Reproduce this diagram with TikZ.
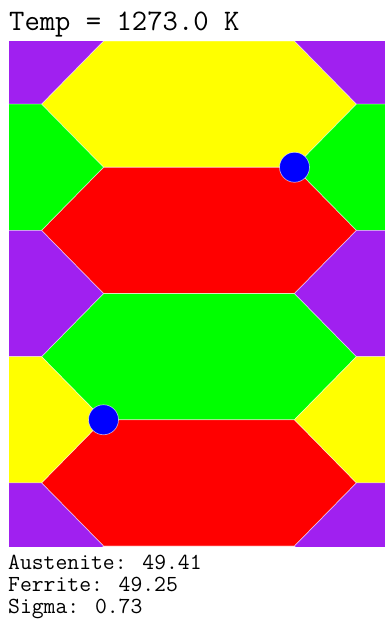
\documentclass[tikz,border=0pt]{standalone}
\definecolor{grpurple}{RGB}{160,32,240}
\definecolor{gryellow}{RGB}{255,255,0}
\definecolor{grgreen}{RGB}{0,255,0}
\definecolor{grred}{RGB}{255,0,0}
\definecolor{grblue}{RGB}{0,0,255}
\newcommand\hexcell[3]{%
  \filldraw[grain,fill=#3] (#1-95.5,#2-63.125) -- ++(191,0) -- ++(62,63.125) -- ++(-62,63.125) -- ++(-191,0) -- ++(-62,-63.125) -- cycle;}
\begin{document}
\begin{tikzpicture}[x=1pt,y=-1pt,
  grain/.style={draw=white,draw opacity=0.55,line width=0.7pt},
  particle/.style={circle,fill=grblue,draw=white,draw opacity=0.6,line width=0.7pt,minimum size=30pt,inner sep=0pt},
  title/.style={anchor=base west,inner sep=0pt,font=\ttfamily\fontsize{29.8}{29.8}\selectfont},
  stat/.style={anchor=base west,inner sep=0pt,font=\ttfamily\fontsize{23}{23}\selectfont}]
\useasboundingbox (0,0) rectangle (385,621);
\begin{scope}
\clip (9,41) rectangle (385,546);
% centre column
\hexcell{199}{104.125}{gryellow}
\hexcell{199}{230.375}{grred}
\hexcell{199}{356.625}{grgreen}
\hexcell{199}{482.875}{grred}
% left column
\hexcell{-54}{41}{grpurple}
\hexcell{-54}{167.25}{grgreen}
\hexcell{-54}{293.5}{grpurple}
\hexcell{-54}{419.75}{gryellow}
\hexcell{-54}{546}{grpurple}
% right column
\hexcell{452}{41}{grpurple}
\hexcell{452}{167.25}{grgreen}
\hexcell{452}{293.5}{grpurple}
\hexcell{452}{419.75}{gryellow}
\hexcell{452}{546}{grpurple}
\end{scope}
\node[particle] (p1) at (294.5,167.25) {};
\node[particle] (p2) at (103.5,419.75) {};
\node[title] (t) at (9,30) {Temp = 1273.0 K};
\node[stat] (a) at (8,569.5) {Austenite: 49.41};
\node[stat] (f) at (8,591.5) {Ferrite: 49.25};
\node[stat] (s) at (8,613.5) {Sigma: 0.73};
\end{tikzpicture}
\end{document}
